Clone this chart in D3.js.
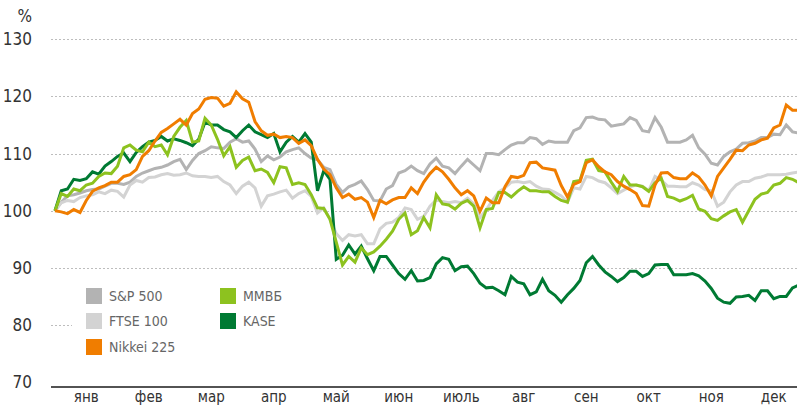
<!DOCTYPE html>
<html>
<head>
<meta charset="utf-8">
<script src="https://cdn.jsdelivr.net/npm/d3@7"></script>
<style>
  body { margin: 0; background: #fff; }
  svg text { font-family: "Liberation Sans Narrow", "DejaVu Sans Condensed", sans-serif; }
</style>
</head>
<body>
<div id="chart"></div>
<script>
// months on the x axis
var months = ['янв', 'фев', 'мар', 'апр', 'май', 'июн', 'июль', 'авг', 'сен', 'окт', 'ноя', 'дек'];
var y_ticks = [70, 80, 90, 100, 110, 120, 130];

// index values, 10 readings per month
var sp500 = [100, 101.5, 102.6, 102.8, 103.1, 103.5, 103.7, 103.8, 104.3, 104.8,
    104.8, 104.6, 105.0, 106.0, 106.6, 107.0, 107.4, 107.6, 108.0, 108.6,
    109.0, 107.2, 108.8, 110.0, 110.5, 111.2, 111.0, 110.9, 112.0, 112.6,
    112.0, 112.2, 110.8, 108.6, 109.6, 108.9, 109.4, 110.3, 110.7, 111.0,
    110.0, 109.2, 108.9, 107.6, 107.2, 104.6, 103.2, 104.2, 104.6, 105.2,
    103.7, 101.8, 101.7, 103.8, 104.4, 106.6, 107.0, 107.8, 107.0, 106.5,
    108.2, 109.2, 107.8, 107.5, 106.5, 107.8, 109.0, 108.0, 107.0, 110.0,
    110.0, 109.8, 110.7, 111.5, 111.9, 111.9, 112.8, 112.6, 111.6, 112.2,
    112.0, 112.0, 112.0, 114.0, 114.5, 116.3, 116.4, 116.0, 115.9, 114.8,
    115.0, 115.2, 116.3, 115.8, 114.0, 113.8, 116.3, 114.6, 112.0, 112.0,
    112.0, 112.4, 113.2, 111.0, 109.9, 108.3, 108.0, 109.5, 110.3, 110.8,
    111.8, 111.9, 112.2, 112.8, 112.8, 113.4, 113.3, 115.0, 113.8, 113.6];

var ftse100 = [100, 101.4, 101.8, 101.6, 102.3, 102.6, 102.8, 103.3, 103.0, 103.6,
    103.4, 102.4, 104.5, 105.3, 105.0, 105.8, 105.9, 106.3, 106.5, 106.2,
    106.3, 106.6, 106.1, 106.0, 106.0, 105.8, 106.0, 105.1, 104.5, 103.0,
    104.3, 105.0, 104.0, 100.8, 102.6, 102.9, 103.3, 103.6, 102.2, 103.0,
    103.5, 102.5, 99.6, 100.5, 98.5, 96.0, 94.8, 95.8, 95.6, 95.8,
    94.2, 94.2, 96.8, 97.8, 98.0, 98.8, 100.5, 100.2, 98.5, 99.0,
    100.8, 101.9, 101.6, 101.4, 101.6, 101.4, 102.2, 101.2, 98.8, 100.2,
    101.8, 103.3, 104.0, 105.0, 105.1, 104.9, 105.1, 104.3, 103.8, 103.7,
    103.2, 102.6, 101.5, 104.0, 103.8, 106.0, 105.8, 105.2, 104.9, 104.0,
    103.0, 103.6, 104.2, 104.5, 104.3, 103.5, 106.0, 105.4, 104.3, 104.3,
    104.2, 104.2, 104.9, 104.5, 103.7, 103.5, 100.8, 101.5, 103.3, 104.5,
    105.1, 105.1, 105.7, 105.9, 106.3, 106.3, 106.3, 106.4, 106.6, 106.8];

var nikkei225 = [100, 99.8, 99.5, 100.2, 99.7, 101.8, 103.4, 104.0, 104.4, 105.0,
    105.0, 106.0, 106.3, 107.2, 109.5, 110.5, 112.2, 113.7, 114.4, 115.2,
    116.0, 115.0, 117.0, 117.8, 119.5, 119.8, 119.7, 118.3, 118.8, 120.8,
    119.6, 119.0, 115.6, 114.0, 113.2, 113.4, 112.8, 113.0, 112.8, 111.8,
    112.4, 111.4, 109.0, 107.3, 106.3, 104.0, 102.3, 102.9, 102.0, 102.3,
    101.5, 98.8, 101.8, 101.2, 101.9, 102.3, 102.3, 104.0, 103.0, 105.0,
    106.5, 107.6, 106.8, 105.5, 104.0, 102.8, 103.5, 102.6, 99.9, 102.2,
    101.4, 101.4, 104.2, 106.0, 105.8, 106.2, 108.4, 108.5, 107.5, 107.3,
    107.1, 104.4, 102.4, 104.6, 105.1, 108.4, 108.9, 107.7, 106.8, 106.3,
    105.1, 104.3, 103.7, 103.0, 100.9, 100.8, 104.5, 106.6, 106.7, 105.8,
    105.6, 105.6, 106.6, 105.9, 104.5, 102.6, 106.0, 107.5, 109.0, 110.6,
    110.5, 111.5, 111.8, 112.4, 112.7, 114.5, 115.0, 118.5, 117.6, 117.6];

var mmvb = [100, 103.0, 102.5, 103.8, 103.5, 104.5, 104.8, 106.0, 106.6, 106.5,
    107.8, 111.0, 111.5, 110.6, 110.3, 112.0, 111.2, 111.5, 109.8, 113.0,
    114.6, 115.8, 112.0, 112.2, 116.2, 115.0, 112.5, 109.6, 111.2, 107.6,
    108.8, 109.4, 107.0, 107.3, 106.7, 104.9, 107.7, 107.5, 104.6, 104.9,
    104.6, 102.8, 100.5, 100.4, 98.5, 94.5, 90.5, 92.0, 91.0, 93.5,
    92.3, 92.8, 93.8, 95.0, 96.4, 98.5, 99.6, 95.8, 96.5, 98.8,
    97.0, 102.8, 101.2, 101.0, 100.3, 101.3, 101.8, 100.8, 97.0, 100.2,
    100.4, 103.2, 103.2, 102.4, 103.4, 104.2, 103.5, 103.5, 103.3, 103.3,
    102.5, 101.8, 101.5, 105.1, 105.3, 108.8, 109.0, 107.0, 106.8, 105.0,
    103.4, 106.0, 104.5, 104.5, 104.2, 103.4, 104.9, 105.7, 102.5, 102.2,
    101.7, 102.1, 102.7, 100.3, 99.9, 98.6, 98.3, 99.1, 99.8, 100.2,
    98.0, 100.0, 102.0, 102.9, 103.2, 104.5, 104.8, 105.8, 105.5, 104.9];

var kase = [100, 103.5, 103.8, 105.5, 105.3, 105.6, 106.8, 106.4, 107.8, 108.6,
    109.5, 110.1, 108.6, 110.2, 111.2, 112.0, 112.3, 113.0, 112.2, 112.6,
    112.3, 111.9, 111.4, 112.5, 115.5, 115.0, 115.0, 114.2, 113.8, 112.8,
    114.0, 115.0, 113.8, 113.3, 112.8, 113.5, 110.3, 112.0, 113.0, 112.0,
    113.5, 112.0, 103.5, 107.0, 105.5, 91.5, 92.2, 94.0, 92.4, 93.8,
    91.6, 89.5, 92.0, 92.0, 90.5, 89.0, 88.0, 89.5, 87.7, 87.8,
    88.3, 90.7, 91.8, 91.5, 89.5, 90.2, 90.3, 89.0, 87.3, 86.5,
    86.6, 86.0, 85.3, 88.5, 87.5, 87.2, 85.3, 85.8, 88.0, 86.0,
    85.2, 84.0, 85.3, 86.4, 87.8, 90.9, 92.0, 90.5, 89.3, 88.5,
    87.6, 88.3, 89.4, 89.4, 88.5, 89.0, 90.5, 90.6, 90.6, 88.8,
    88.8, 88.8, 89.0, 88.6, 87.7, 86.4, 84.7, 84.0, 83.8, 84.9,
    85.0, 85.2, 84.3, 86.0, 86.0, 84.6, 85.0, 85.0, 86.5, 87.0];

var series_names = ['S&P 500', 'FTSE 100', 'Nikkei 225', 'ММВБ', 'KASE'];
var series_colors = ['#b3b3b3', '#d3d3d3', '#f07d00', '#8dc21f', '#007a33'];
var series_values = [sp500, ftse100, nikkei225, mmvb, kase];
var draw_order = [0, 1, 4, 3, 2];

var chart_width = 797;
var chart_height = 407;

var svg = d3.select('#chart')
    .append('svg')
    .attr('width', chart_width)
    .attr('height', chart_height);

var x_scale = d3.scaleLinear()
    .domain([0, 12])
    .range([55, 805]);

var y_scale = d3.scaleLinear()
    .domain([80, 130])
    .range([325, 39.3]);

// dotted grid
svg.selectAll('.grid')
    .data(y_ticks.filter(function (d) { return d > 70; }))
    .enter()
    .append('line')
    .attr('x1', 51)
    .attr('x2', chart_width)
    .attr('y1', function (d) { return Math.round(y_scale(d)) + 0.5; })
    .attr('y2', function (d) { return Math.round(y_scale(d)) + 0.5; })
    .attr('stroke', '#bdbdbd')
    .attr('stroke-width', 1)
    .attr('stroke-dasharray', '2,2');

// y labels
svg.selectAll('.ylab')
    .data(y_ticks)
    .enter()
    .append('text')
    .attr('x', 32)
    .attr('y', function (d) { return y_scale(d); })
    .attr('dy', '0.35em')
    .attr('text-anchor', 'end')
    .attr('font-size', 17)
    .attr('fill', '#333')
    .text(function (d) { return d; });

svg.append('text')
    .attr('x', 32)
    .attr('y', 22)
    .attr('text-anchor', 'end')
    .attr('font-size', 17)
    .attr('fill', '#333')
    .text('%');

// white box behind the legend hides the 80 gridline
svg.append('rect')
    .attr('x', 72)
    .attr('y', 282)
    .attr('width', chart_width - 72)
    .attr('height', 72)
    .attr('fill', '#fff');

// lines
var line = d3.line()
    .x(function (d, i) { return x_scale(i / 10); })
    .y(function (d) { return y_scale(d); });

draw_order.forEach(function (k) {
    svg.append('path')
        .datum(series_values[k])
        .attr('d', line)
        .attr('fill', 'none')
        .attr('stroke', series_colors[k])
        .attr('stroke-width', 3)
        .attr('stroke-linejoin', 'miter');
});

// x axis
svg.append('line')
    .attr('x1', 51)
    .attr('x2', chart_width)
    .attr('y1', 387)
    .attr('y2', 387)
    .attr('stroke', '#1a1a1a')
    .attr('stroke-width', 1.5);

svg.selectAll('.xlab')
    .data(months)
    .enter()
    .append('text')
    .attr('x', function (d, i) { return x_scale(i + 0.5); })
    .attr('y', 402)
    .attr('text-anchor', 'middle')
    .attr('font-size', 15)
    .attr('fill', '#333')
    .text(function (d) { return d; });

// legend
var legend_pos = [[86, 288], [86, 313], [86, 339], [220, 288], [220, 313]];
var legend = svg.selectAll('.legend')
    .data(series_names)
    .enter()
    .append('g')
    .attr('transform', function (d, i) {
        return 'translate(' + legend_pos[i][0] + ',' + legend_pos[i][1] + ')';
    });

legend.append('rect')
    .attr('width', 16)
    .attr('height', 16)
    .attr('fill', function (d, i) { return series_colors[i]; });

legend.append('text')
    .attr('x', 23)
    .attr('y', 13)
    .attr('font-size', 14)
    .attr('fill', '#666')
    .text(function (d) { return d; });
</script>
</body>
</html>
